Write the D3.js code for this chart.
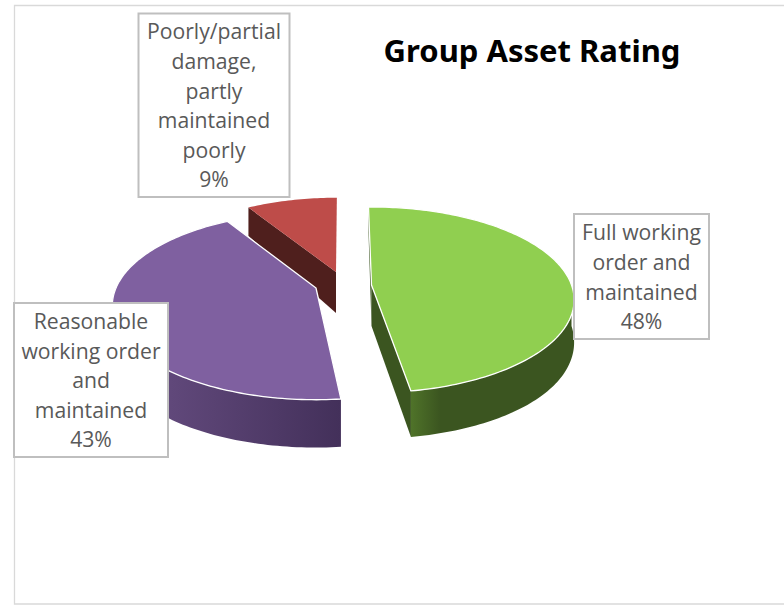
<!DOCTYPE html>
<html>
<head>
<meta charset="utf-8">
<script src="https://cdn.jsdelivr.net/npm/d3@7"></script>
<style>
    html, body { margin: 0; padding: 0; background: #fff; }
    svg { display: block; }
</style>
</head>
<body>
<script>
    'use strict';

    // data
    var categories = [
        'Full working order and maintained',
        'Reasonable working order and maintained',
        'Poorly/partial damage, partly maintained poorly'
    ];
    var shares = [48, 43.7, 8.3];
    var percentLabels = ['48%', '43%', '9%'];
    var labelLines = [
        ['Full working', 'order and', 'maintained'],
        ['Reasonable', 'working order', 'and', 'maintained'],
        ['Poorly/partial', 'damage,', 'partly', 'maintained', 'poorly']
    ];

    // layout
    var width = 784, height = 605;
    var centers = [[371.5, 285], [316, 288], [336, 272]];
    var boxes = [[574, 214, 135, 125], [14, 303, 154, 154], [138.5, 13.5, 151, 183.5]];
    var tops = ['#90cf50', '#7f60a0', '#be4c49'];
    var faces = ['#3b5520', '#4a3560', '#4f1f1d'];
    var wallLight = ['#4f7329', '#6a5085', '#5e2725'];
    var wallDark = ['#3b5520', '#43305a', '#4f1f1d'];

    // the picture is a perspective view, so each slice gets its own small corrections
    var persp = [0.16, 0.19, 0.146];
    var sizeBy = [1, 1, 0.94];
    var depthBy = [1, 1.04, 1];
    var edgeNudge = [[0.5, -0.86], [2.9, 0.3], [-0.2, 1.8]];   // degrees

    var radiusX = 200, tiltY = 90.5;
    var startAngle = -1.5 * Math.PI / 180;
    var toRad = Math.PI / 180;

    var svg = d3.select('body').append('svg').attr('width', width).attr('height', height);
    var defs = svg.append('defs');

    var pie = d3.pie().sort(null).startAngle(startAngle).endAngle(startAngle + 2 * Math.PI);
    var slices = pie(shares).map(function (d, i) {
        return {
            startAngle: d.startAngle + edgeNudge[i][0] * toRad,
            endAngle: d.endAngle + edgeNudge[i][1] * toRad
        };
    });

    function project(i, theta, r, down) {
        var gy = -Math.cos(theta) * r;
        var s = 1 / (1 - persp[i] * gy);
        var depth = down ? (41 + 10.3 * gy - 5.3 * gy * gy) * depthBy[i] : 0;
        return [centers[i][0] + Math.sin(theta) * r * radiusX * s * sizeBy[i],
                centers[i][1] + gy * tiltY * s * sizeBy[i] + depth];
    }

    function arcPoints(i, a0, a1, down) {
        var n = Math.max(2, Math.ceil(Math.abs(a1 - a0) / 0.02));
        return d3.range(n + 1).map(function (k) {
            return project(i, a0 + (a1 - a0) * k / n, 1, down);
        });
    }

    var line = d3.line();

    // which cut faces turn towards the viewer: both on green, the start edge on red
    var visibleCuts = [['startAngle', 'endAngle'], [], ['startAngle']];

    // cut faces and outer walls first, then the top faces
    var layer = svg.append('g');

    slices.forEach(function (d, i) {
        visibleCuts[i].forEach(function (key) {
            var a = d[key];
            layer.append('path')
                .attr('d', line([project(i, a, 0, false), project(i, a, 1, false),
                                 project(i, a, 1, true), project(i, a, 0, true)]) + 'Z')
                .attr('fill', faces[i]);
        });

        // outer wall, only the part that is in front
        var a0 = Math.max(d.startAngle, Math.PI / 2);
        var a1 = Math.min(d.endAngle, 3 * Math.PI / 2);
        if (a1 > a0) {
            var grad = defs.append('linearGradient').attr('id', 'wall' + i);
            grad.append('stop').attr('offset', '0%').attr('stop-color', i === 0 ? wallDark[i] : wallLight[i]);
            if (i === 0) {
                grad.attr('x1', '100%').attr('x2', '0%');
                grad.append('stop').attr('offset', '82%').attr('stop-color', wallDark[i]);
                grad.append('stop').attr('offset', '100%').attr('stop-color', wallLight[i]);
            } else {
                grad.append('stop').attr('offset', '100%').attr('stop-color', wallDark[i]);
            }
            var rim = arcPoints(i, a0, a1, false).concat(arcPoints(i, a1, a0, true));
            layer.append('path').attr('d', line(rim) + 'Z').attr('fill', 'url(#wall' + i + ')');
        }
    });

    slices.forEach(function (d, i) {
        var outline = [centers[i]].concat(arcPoints(i, d.startAngle, d.endAngle, false));
        layer.append('path')
            .attr('d', line(outline) + 'Z')
            .attr('fill', tops[i])
            .attr('stroke', i === 2 ? 'none' : '#fff')
            .attr('stroke-width', 1.3)
            .attr('stroke-linejoin', 'round');
    });

    // frame of the chart area, open on the right
    svg.append('path')
        .attr('d', line([[width, 5.5], [14.5, 5.5], [14.5, 604], [width, 604]]))
        .attr('fill', 'none')
        .attr('stroke', '#d9d9d9')
        .attr('stroke-width', 1.3);

    // data labels
    var labelG = svg.selectAll('g.label').data(categories).enter().append('g').attr('class', 'label');

    labelG.append('rect')
        .attr('x', function (d, i) { return boxes[i][0]; })
        .attr('y', function (d, i) { return boxes[i][1]; })
        .attr('width', function (d, i) { return boxes[i][2]; })
        .attr('height', function (d, i) { return boxes[i][3]; })
        .attr('fill', '#fff')
        .attr('stroke', '#bfbfbf')
        .attr('stroke-width', 2);

    labelG.each(function (d, i) {
        var rows = labelLines[i].concat([percentLabels[i]]);
        var box = boxes[i];
        var step = 29.6;
        var top = box[1] + box[3] / 2 - step * rows.length / 2;
        d3.select(this).selectAll('text').data(rows).enter().append('text')
            .attr('x', box[0] + box[2] / 2)
            .attr('y', function (r, j) { return top + step * j + 23; })
            .attr('text-anchor', 'middle')
            .attr('font-family', '"Open Sans", sans-serif')
            .attr('font-size', 21.2)
            .attr('fill', '#595959')
            .text(function (r) { return r; });
    });

    svg.append('text')
        .attr('x', 532)
        .attr('y', 62)
        .attr('text-anchor', 'middle')
        .attr('font-family', '"Noto Sans", "Open Sans", sans-serif')
        .attr('font-weight', 700)
        .attr('font-size', 31)
        .attr('fill', '#000')
        .text('Group Asset Rating');
</script>
</body>
</html>
